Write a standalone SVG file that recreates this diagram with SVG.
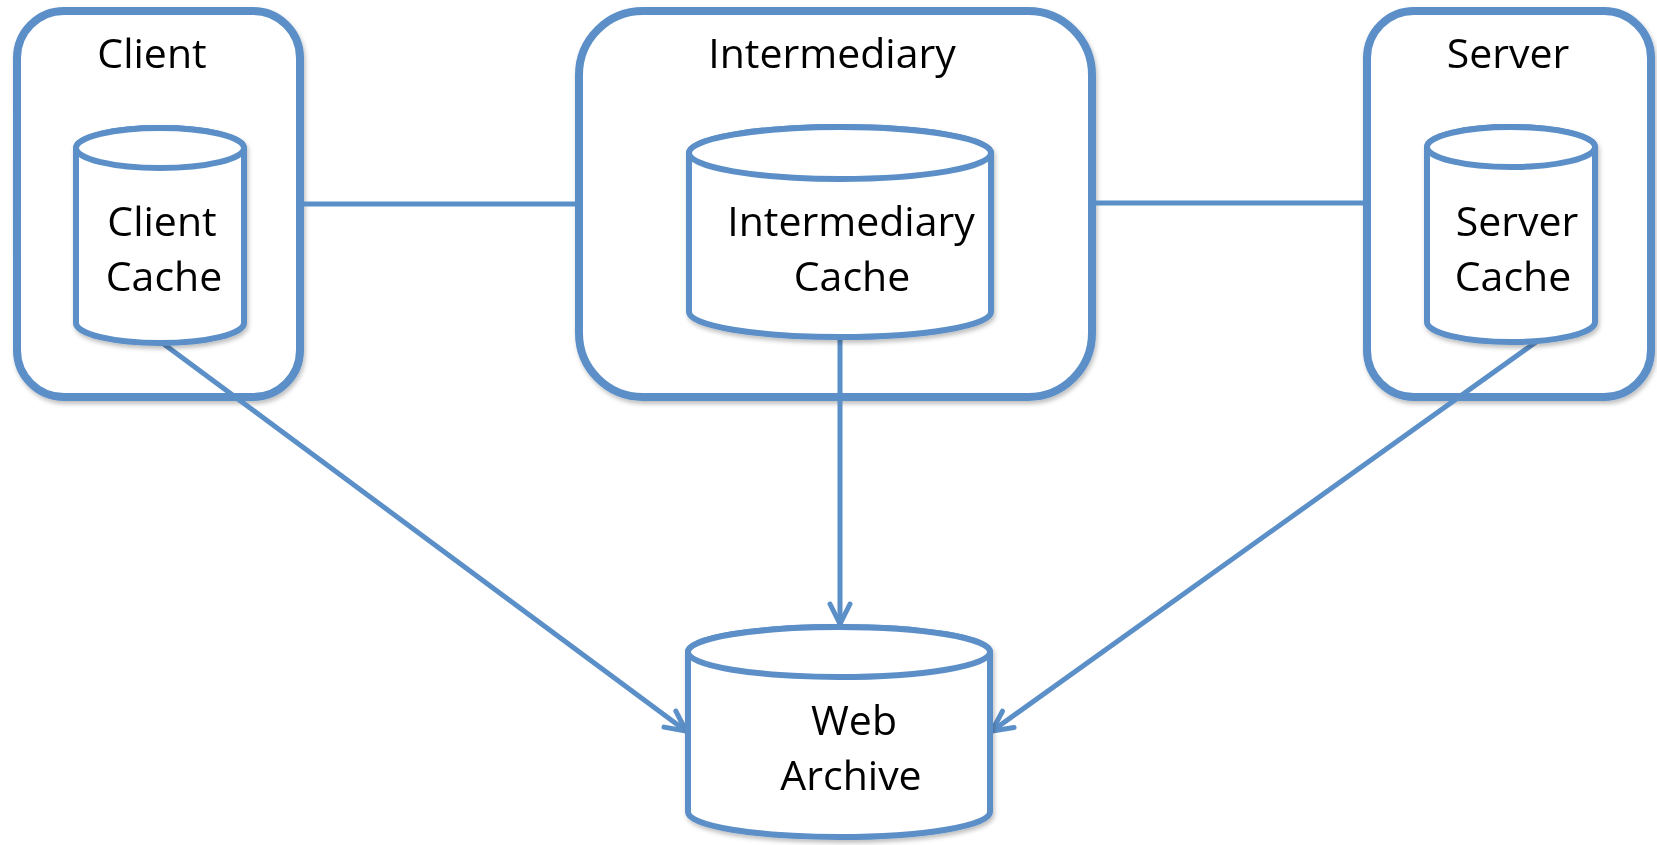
<svg xmlns="http://www.w3.org/2000/svg" width="1657" height="845" viewBox="0 0 1657 845">
  <style>
    .box { fill: #ffffff; stroke: #5B8FC7; stroke-width: 8; }
    .cyl { fill: #ffffff; stroke: #5B8FC7; stroke-width: 6; stroke-linejoin: round; }
    .conn { fill: none; stroke: #5B8FC7; stroke-width: 5; stroke-linecap: round; }
    .lbl { font-family: "Open Sans", "Liberation Sans", sans-serif; font-size: 41px; fill: #000000; text-anchor: middle; }
  </style>
  <defs>
    <filter id="shadow" x="-10%" y="-10%" width="120%" height="130%">
      <feDropShadow dx="1.5" dy="3" stdDeviation="2" flood-color="#000000" flood-opacity="0.25"/>
    </filter>
    <marker id="arrow" markerUnits="userSpaceOnUse" markerWidth="30" markerHeight="30" viewBox="-25 -15 30 30" refX="0" refY="0" orient="auto">
      <path d="M-20,-10 L0,0 L-20,10" fill="none" stroke="#5B8FC7" stroke-width="5" stroke-linecap="round" stroke-linejoin="round"/>
    </marker>
  </defs>

  <g id="client" filter="url(#shadow)">
    <rect class="box" x="17" y="11" width="283" height="386" rx="47" ry="47"/>
    <text class="lbl" x="152" y="68">Client</text>
  </g>
  <g id="intermediary" filter="url(#shadow)">
    <rect class="box" x="579" y="11" width="513" height="386" rx="64" ry="64"/>
    <text class="lbl" x="832" y="68">Intermediary</text>
  </g>
  <g id="server" filter="url(#shadow)">
    <rect class="box" x="1367" y="11" width="284" height="386" rx="47" ry="47"/>
    <text class="lbl" x="1508" y="68">Server</text>
  </g>

  <g id="connectors">
    <line class="conn" x1="300" y1="204" x2="579" y2="204"/>
    <line class="conn" x1="1092" y1="203" x2="1367" y2="203"/>
    <line class="conn" x1="161" y1="342" x2="686" y2="731" marker-end="url(#arrow)"/>
    <line class="conn" x1="840" y1="337" x2="840" y2="624" marker-end="url(#arrow)"/>
    <line class="conn" x1="1536" y1="342" x2="992" y2="731" marker-end="url(#arrow)"/>
  </g>

  <g id="client-cache" filter="url(#shadow)">
    <path class="cyl" d="M76,148 L76,323 A84,20 0 0 0 244,323 L244,148 A84,20 0 0 0 76,148 Z"/>
    <ellipse class="cyl" cx="160" cy="148" rx="84" ry="20"/>
    <text class="lbl" x="162" y="236">Client</text>
    <text class="lbl" x="164" y="291">Cache</text>
  </g>
  <g id="intermediary-cache" filter="url(#shadow)">
    <path class="cyl" d="M689,153 L689,312 A151,25 0 0 0 991,312 L991,153 A151,26 0 0 0 689,153 Z"/>
    <ellipse class="cyl" cx="840" cy="153" rx="151" ry="26"/>
    <text class="lbl" x="851" y="236">Intermediary</text>
    <text class="lbl" x="852" y="291">Cache</text>
  </g>
  <g id="server-cache" filter="url(#shadow)">
    <path class="cyl" d="M1427,147 L1427,322 A84,20 0 0 0 1595,322 L1595,147 A84,20 0 0 0 1427,147 Z"/>
    <ellipse class="cyl" cx="1511" cy="147" rx="84" ry="20"/>
    <text class="lbl" x="1517" y="236">Server</text>
    <text class="lbl" x="1513" y="291">Cache</text>
  </g>
  <g id="web-archive" filter="url(#shadow)">
    <path class="cyl" d="M688,652 L688,812 A151,25 0 0 0 990,812 L990,652 A151,25 0 0 0 688,652 Z"/>
    <ellipse class="cyl" cx="839" cy="652" rx="151" ry="25"/>
    <text class="lbl" x="854" y="735">Web</text>
    <text class="lbl" x="851" y="790">Archive</text>
  </g>
</svg>
